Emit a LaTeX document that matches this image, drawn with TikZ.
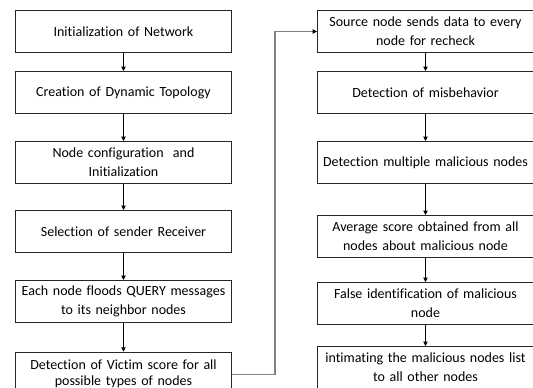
\documentclass[tikz,border=0pt]{standalone}
\usepackage{fontspec}
\setmainfont{Carlito}[Ligatures={NoCommon,NoContextual}]
\usepackage{tikz}
\usetikzlibrary{positioning, arrows.meta}

\begin{document}
\begin{tikzpicture}[node distance=20.25pt, >={Triangle[length=3.2pt,width=3.2pt]},
      stage/.style={draw=black!85, line width=0.75pt, text width=157.5pt, inner xsep=2.25pt, inner ysep=1pt, align=center, minimum height=31.5pt, font=\fontsize{10.5pt}{14.5pt}\selectfont},
      flow/.style={->, line width=0.7pt},
      loopline/.style={line width=1pt, draw=black!50, -{Triangle[length=3.2pt,width=3.2pt,color=black]}}]

    \clip (0,0) rectangle (399.75pt,-290.25pt);

    \node[stage, anchor=north west] (init) at (11.25pt,-7.5pt) {Initialization of Network};
    \node[stage, below=13.5pt of init] (topo) {Creation of Dynamic Topology};
    \node[stage, below=of topo] (config) {Node configuration~ and\\Initialization};
    \node[stage, below=19.5pt of config] (select) {Selection of sender Receiver};
    \node[stage, below=of select] (flood) {Each node floods QUERY messages\\to its neighbor nodes};
    \node[stage, below=21.5pt of flood, minimum height=33pt] (victim) {Detection of Victim score for all\\[-2.5pt]possible types of nodes};

    \node[stage, anchor=north west] (recheck) at (237.75pt,-7.5pt) {Source node sends data to every\\node for recheck};
    \node[stage, below=13.5pt of recheck] (misbeh) {Detection of misbehavior};
    \node[stage, below=of misbeh] (multi) {Detection multiple malicious nodes};
    \node[stage, below=23.25pt of multi] (avg) {Average score obtained from all\\nodes about malicious node};
    \node[stage, below=18pt of avg] (falseid) {False identification of malicious\\node};
    \node[stage, below=15.75pt of falseid] (intimate) {intimating the malicious nodes list\\to all other nodes};

    \draw[flow] (init) -- (topo);
    \draw[flow] (topo) -- (config);
    \draw[flow] (config) -- (select);
    \draw[flow] (select) -- (flood);
    \draw[flow] (flood) -- (victim);
    \draw[flow] (recheck) -- (misbeh);
    \draw[flow] (misbeh) -- (multi);
    \draw[flow] (multi) -- (avg);
    \draw[flow] (avg) -- (falseid);
    \draw[flow] (falseid) -- (intimate);
    \draw[loopline] (victim.east) -- ++(32.25pt,0) |- (recheck.west);
  \end{tikzpicture}
\end{document}
